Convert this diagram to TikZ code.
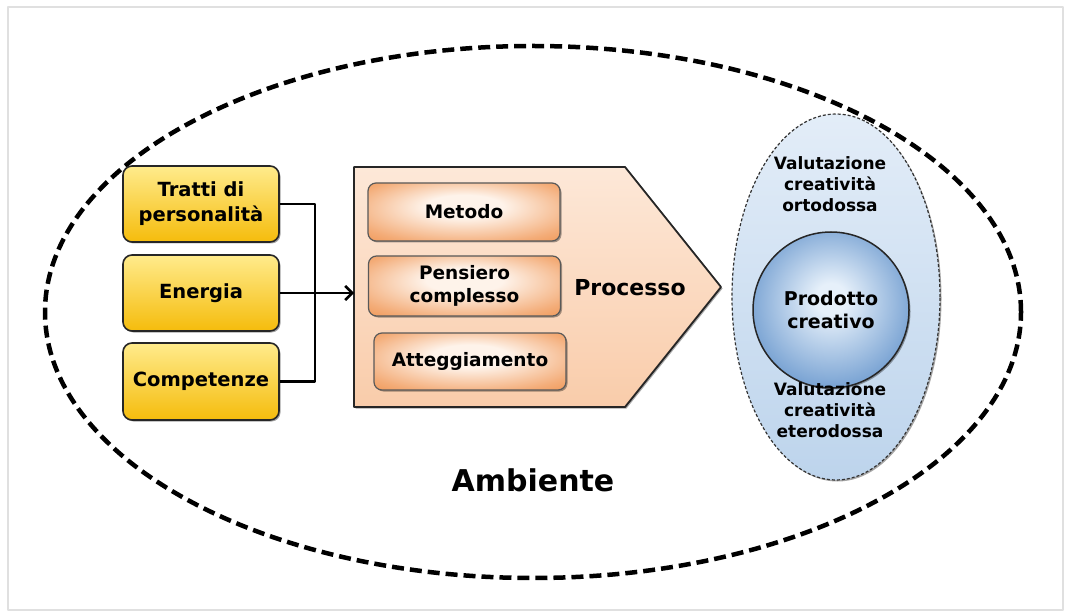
\documentclass[tikz,border=0pt]{standalone}
\usepackage{fontspec}
\setmainfont{DejaVu Sans}
\usetikzlibrary{shadows,arrows.meta,positioning,shapes.geometric}

\definecolor{gialloChiaro}{HTML}{FFEB8C}
\definecolor{gialloScuro}{HTML}{F5BC0C}
\definecolor{pescaChiaro}{HTML}{FDE8D8}
\definecolor{pescaScuro}{HTML}{F9CCAA}
\definecolor{arancio}{HTML}{EE873C}
\definecolor{aranChiaro}{HTML}{FEF3EA}
\definecolor{azzurroChiaro}{HTML}{E3EDF8}
\definecolor{azzurroScuro}{HTML}{BDD4EC}
\definecolor{blu}{HTML}{4F85C4}
\definecolor{bluChiaro}{HTML}{E6F0FA}

\pgfdeclareradialshading{arancioRad}{\pgfpoint{0bp}{6bp}}{color(0bp)=(aranChiaro); color(10bp)=(aranChiaro);
  color(30bp)=(arancio!65!aranChiaro); color(44bp)=(arancio); color(50bp)=(arancio)}
\pgfdeclareradialshading{bluRad}{\pgfpoint{0bp}{4bp}}{color(0bp)=(bluChiaro); color(5bp)=(bluChiaro);
  color(26bp)=(blu!70!bluChiaro); color(42bp)=(blu); color(50bp)=(blu)}

\tikzset{
  ombra/.style={drop shadow={shadow xshift=1.5pt, shadow yshift=-1.5pt, opacity=0.35, fill=black}},
  gialla/.style={draw=black!85, line width=1.6pt, rounded corners=9pt, top color=gialloChiaro,
    bottom color=gialloScuro, minimum width=156pt, minimum height=76pt, align=center,
    font=\bfseries\fontsize{19.5}{25}\selectfont, ombra},
  arancione/.style={draw=black!65, line width=1.2pt, rounded corners=8pt, shading=arancioRad,
    minimum width=192pt, minimum height=58pt, align=center,
    font=\bfseries\fontsize{18.5}{23}\selectfont, ombra},
  testo/.style={align=center, font=\bfseries\fontsize{17}{21}\selectfont},
  linea/.style={line width=2.6pt, black}
}

\begin{document}
\begin{tikzpicture}[x=1pt, y=-1pt, line join=round]
\useasboundingbox (0,0) rectangle (1065,612);
\fill[white] (0,0) rectangle (1065,612);
% cornice
\draw[black!12, line width=1.5pt] (8,7) rectangle (1063,610);

% ambiente
\draw[line width=4.5pt, dash pattern=on 12pt off 6pt] (533,312) ellipse [x radius=488pt, y radius=266pt];
\node[font=\bfseries\fontsize{30}{34}\selectfont] (ambiente) at (533,480) {Ambiente};

% fattori
\node[gialla] (tratti) at (201,204) {Tratti di\\personalità};
\node[gialla] (energia) at (201,293) {Energia};
\node[gialla, minimum height=77pt] (competenze) at (201,381.5) {Competenze};

% processo
\filldraw[draw=black!85, line width=1.8pt, top color=pescaChiaro, bottom color=pescaScuro, ombra]
  (354,167) -- (625,167) -- (721,287) -- (625,407) -- (354,407) -- cycle;
\coordinate (procL) at (354,287);
\node[arancione] (metodo) at (464,212) {Metodo};
\node[arancione, minimum height=60pt] (pensiero) at (464.5,286) {Pensiero\\complesso};
\node[arancione, minimum height=57pt] (atteggiamento) at (470,361.5) {Atteggiamento};
\node[font=\bfseries\fontsize{22}{26}\selectfont] (processo) at (630,288) {Processo};

% connettori
\coordinate (giunto) at (315,293);
\draw[linea] (tratti.east) -| (giunto) |- (competenze.east);
\draw[linea, -{Straight Barb[length=7pt, width=14pt, line width=2.6pt]}] (energia.east) -- (energia.east -| procL);

% valutazione
\node[ellipse, draw=black!80, line width=1.2pt, dash pattern=on 3pt off 2pt, top color=azzurroChiaro,
  bottom color=azzurroScuro, minimum width=208pt, minimum height=366pt, ombra] (valutazione) at (836,297) {};
\node[circle, draw=black!85, line width=1.5pt, shading=bluRad, minimum size=156pt,
  align=center, font=\bfseries\fontsize{19}{23}\selectfont, ombra] (prodotto) at (831,310) {Prodotto\\creativo};
\node[testo] (ortodossa) at (830,184) {Valutazione\\creatività\\ortodossa};
\node[testo] (eterodossa) at (830,410) {Valutazione\\creatività\\eterodossa};
\end{tikzpicture}
\end{document}
